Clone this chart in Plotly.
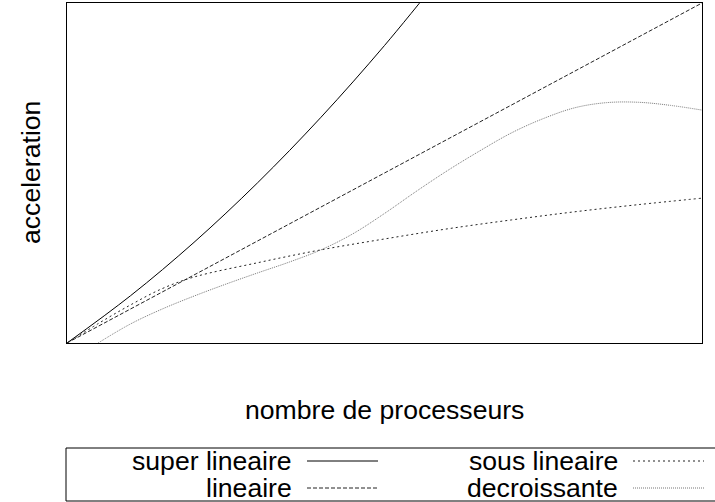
import plotly.graph_objects as go

# ---- data (normalised axes) ----
series_names = ["super lineaire", "lineaire", "sous lineaire", "decroissante"]

x_super = [0, 0.1, 0.2, 0.3, 0.4, 0.5, 0.6]
y_super = [0, 0.139, 0.296, 0.471, 0.664, 0.875, 1.104]

x_lin = [0, 1]
y_lin = [0, 1]

x_sous = [0, 0.05, 0.1, 0.15, 0.2, 0.3, 0.4, 0.5, 0.6, 0.7, 0.8, 0.9, 1.0]
y_sous = [0, 0.058, 0.112, 0.16, 0.194, 0.236, 0.274, 0.306, 0.336, 0.362, 0.386, 0.407, 0.426]

x_dec = [0.049, 0.1, 0.15, 0.2, 0.25, 0.3, 0.35, 0.4, 0.45, 0.5, 0.55, 0.6, 0.65, 0.7,
         0.75, 0.8, 0.85, 0.9, 0.95, 1.0]
y_dec = [0, 0.056, 0.1, 0.138, 0.173, 0.206, 0.238, 0.274, 0.321, 0.381, 0.446, 0.508, 0.565,
         0.618, 0.66, 0.692, 0.707, 0.708, 0.699, 0.685]

x_title = "nombre de processeurs"
y_title = "acceleration"

# ---- styles ----
styles = [
    dict(color="#000000", width=1, dash="solid"),
    dict(color="#222222", width=1, dash="4px,2px"),
    dict(color="#222222", width=1, dash="2px,3px"),
    dict(color="#777777", width=1, dash="1px,1px"),
]
FONT = "Liberation Sans, Arial, sans-serif"
FS = 26.6

fig = go.Figure()
for name, xs, ys, st in zip(series_names,
                            [x_super, x_lin, x_sous, x_dec],
                            [y_super, y_lin, y_sous, y_dec], styles):
    fig.add_trace(go.Scatter(x=xs, y=ys, mode="lines", name=name,
                             line=dict(color=st["color"], width=st["width"], dash=st["dash"],
                                       shape="spline", smoothing=1.0),
                             showlegend=False, hoverinfo="skip"))

W, H = 715, 502
ML, MR, MT, MB = 67, 13, 3, 159
pw, ph = W - ML - MR, H - MT - MB


def px_x(p):
    return (p - ML) / pw


def px_y(p):
    return (H - MB - p) / ph


shapes = []
annotations = []

# custom legend box
shapes.append(dict(type="rect", xref="paper", yref="paper",
                   x0=px_x(66), x1=px_x(716), y0=px_y(501), y1=px_y(448),
                   line=dict(color="black", width=1), fillcolor="rgba(0,0,0,0)"))

legend_pos = [  # (text right edge, sample x0, sample x1, row y)
    (294, 307, 378, 461),
    (294, 307, 378, 488),
    (620, 633, 704, 461),
    (620, 633, 704, 488),
]
for name, st, (tx, sx0, sx1, ry) in zip(series_names, styles, legend_pos):
    annotations.append(dict(text=name, xref="paper", yref="paper",
                            x=px_x(tx), y=px_y(ry), xanchor="right", yanchor="middle",
                            showarrow=False, font=dict(family=FONT, size=FS, color="black")))
    shapes.append(dict(type="line", xref="paper", yref="paper",
                       x0=px_x(sx0), x1=px_x(sx1), y0=px_y(ry), y1=px_y(ry),
                       line=dict(color=st["color"], width=1, dash=st["dash"])))

annotations.append(dict(text=x_title, xref="paper", yref="paper", x=0.5, y=px_y(410),
                        xanchor="center", yanchor="middle", showarrow=False,
                        font=dict(family=FONT, size=FS, color="black")))
annotations.append(dict(text=y_title, xref="paper", yref="paper", x=px_x(31), y=px_y(173),
                        xanchor="center", yanchor="middle", showarrow=False, textangle=-90,
                        font=dict(family=FONT, size=FS, color="black")))

fig.update_layout(
    width=W, height=H,
    margin=dict(l=ML, r=MR, t=MT, b=MB, pad=0),
    paper_bgcolor="white", plot_bgcolor="white",
    font=dict(family=FONT, size=FS, color="black"),
    shapes=shapes, annotations=annotations,
    hovermode=False,
)
fig.update_xaxes(range=[0, 1], showgrid=False, zeroline=False, showticklabels=False,
                 ticks="", showline=True, mirror=True, linecolor="black", linewidth=1)
fig.update_yaxes(range=[0, 1], showgrid=False, zeroline=False, showticklabels=False,
                 ticks="", showline=True, mirror=True, linecolor="black", linewidth=1)

fig.write_html("out.html", config={"displayModeBar": False},
               post_script="document.body.style.margin='0';")
